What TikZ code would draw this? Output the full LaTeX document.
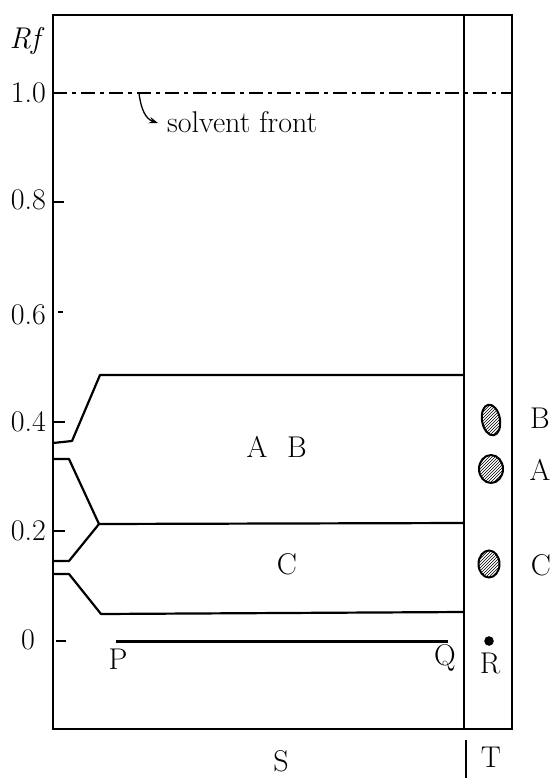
\documentclass[tikz,border=0pt]{standalone}
\usetikzlibrary{shapes.geometric,patterns,arrows.meta}
\begin{document}
\begin{tikzpicture}[x=1pt,y=-1pt,
  lbl/.style={inner sep=0pt,font=\fontsize{30}{36}\selectfont},
  frame/.style={line width=2pt},
  band/.style={line width=2.2pt,line join=round},
  tick/.style={line width=1.3pt},
  spot/.style={ellipse,draw,line width=2pt,inner sep=0pt,pattern=north east lines}]
\useasboundingbox (0,0) rectangle (552,778);
% frame
\draw[frame] (53,15) rectangle (512,729);
\draw[frame] (464,15) -- (464,729);
% solvent front
\draw[line width=1.6pt,dash pattern=on 14pt off 5pt on 4pt off 5pt] (53,93) -- (512,93);
\coordinate (sf) at (139,93);
\node[lbl,anchor=west] (solvent) at (167,122) {solvent front};
\draw[line width=1.3pt,-{Stealth[length=9pt,width=6.5pt]}] (sf) .. controls (141,110) and (146,119) .. ([xshift=-9pt,yshift=-1pt]solvent.west);
% axis labels
\node[lbl] (rf) at (27,41) {\textit{Rf}};
\node[lbl,anchor=east] (l10) at (46,93) {1.0};
\node[lbl,anchor=east] (l08) at (46,200) {0.8};
\node[lbl,anchor=east] (l06) at (46,315) {0.6};
\node[lbl,anchor=east] (l04) at (46,422) {0.4};
\node[lbl,anchor=east] (l02) at (46,531) {0.2};
\node[lbl] (l00) at (28,640) {0};
% ticks
\draw[tick] (53,202) -- (64,202);
\draw[tick] (58,312) -- (63,312);
\draw[tick] (53,422) -- (65,422);
\draw[tick] (53,531) -- (65,531);
\draw[tick] (56,641) -- (66,641);
% bands
\draw[band] (53,443) -- (72,441) -- (100,375) -- (464,375);
\draw[band] (53,459) -- (69,459) -- (99,524) -- (464,523);
\draw[band] (53,561) -- (69,561) -- (99,524);
\draw[band] (53,574) -- (69,574) -- (101,614) -- (464,612);
\node[lbl] (bandA) at (257,447) {A};
\node[lbl] (bandB) at (297,447) {B};
\node[lbl] (bandC) at (287,564) {C};
% origin line
\node[lbl] (P) at (118,659) {P};
\node[lbl] (Q) at (445,658) {Q};
\draw[line width=3pt] (116,641) -- (448,641);
% T column spots
\node[spot,minimum width=18pt,minimum height=31pt,rotate=10] (spB) at (491,420) {};
\node[spot,minimum width=24pt,minimum height=28pt] (spA) at (491,469) {};
\node[spot,minimum width=21pt,minimum height=27pt] (spC) at (489,564) {};
\fill (489,641) circle (4.8pt);
\node[lbl] (R) at (490,663) {R};
\node[lbl] (lB) at (540,418) {B};
\node[lbl] (lA) at (540,470) {A};
\node[lbl] (lC) at (541,565) {C};
% bottom
\node[lbl] (S) at (281,761) {S};
\node[lbl] (T) at (491,757) {T};
\draw[line width=1.6pt] (466,740) -- (466,778);
\end{tikzpicture}
\end{document}
